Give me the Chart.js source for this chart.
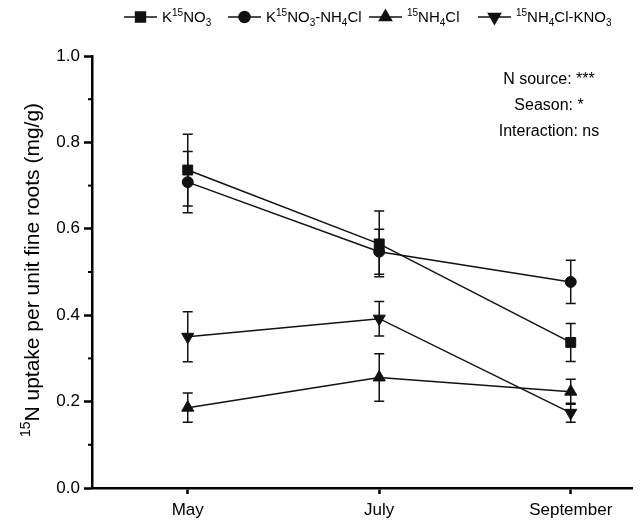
<!DOCTYPE html>
<html>
<head>
<meta charset="utf-8">
<script src="https://cdn.jsdelivr.net/npm/chart.js@4/dist/chart.umd.min.js"></script>
<style>
  html, body { margin: 0; background: #fff; }
</style>
</head>
<body>
<canvas id="chart" width="640" height="521"></canvas>
<script>
// ---------------- DATA ----------------
const months = ["May", "July", "September"];
const seriesNames = ["K¹⁵NO₃", "K¹⁵NO₃-NH₄Cl", "¹⁵NH₄Cl", "¹⁵NH₄Cl-KNO₃"];

const kno3 = [0.736, 0.565, 0.337];
const kno3Err = [0.083, 0.076, 0.044];
const kno3Nh4 = [0.708, 0.547, 0.477];
const kno3Nh4Err = [0.071, 0.052, 0.050];
const nh4 = [0.186, 0.256, 0.223];
const nh4Err = [0.034, 0.055, 0.029];
const nh4Kno3 = [0.350, 0.392, 0.174];
const nh4Kno3Err = [0.058, 0.040, 0.022];

const yTicks = [0, 0.2, 0.4, 0.6, 0.8, 1.0];
const yMinor = [0.1, 0.3, 0.5, 0.7, 0.9];
const statsText = ["N source: ***", "Season: *", "Interaction: ns"];

// legend labels with super/subscripts: [text, "sup"|"sub"|""]
const legendParts = [
  [["K", ""], ["15", "sup"], ["NO", ""], ["3", "sub"]],
  [["K", ""], ["15", "sup"], ["NO", ""], ["3", "sub"], ["-NH", ""], ["4", "sub"], ["Cl", ""]],
  [["15", "sup"], ["NH", ""], ["4", "sub"], ["Cl", ""]],
  [["15", "sup"], ["NH", ""], ["4", "sub"], ["Cl-KNO", ""], ["3", "sub"]]
];
const titleParts = [["15", "sup"], ["N uptake per unit fine roots (mg/g)", ""]];

const FONT = '"Liberation Sans", Arial, sans-serif';

// ---------------- HELPERS ----------------
function toPoints(vals) { return vals.map((v, i) => ({ x: i, y: v })); }

function richWidth(ctx, parts, size) {
  let w = 0;
  for (const [t, k] of parts) {
    ctx.font = (k ? Math.round(size * 0.65) : size) + "px " + FONT;
    w += ctx.measureText(t).width;
  }
  return w;
}

function drawRich(ctx, parts, x, y, size) {
  ctx.textAlign = "left";
  ctx.textBaseline = "alphabetic";
  for (const [t, k] of parts) {
    const s = k ? Math.round(size * 0.65) : size;
    ctx.font = s + "px " + FONT;
    let dy = 0;
    if (k === "sup") dy = -size * 0.42;
    if (k === "sub") dy = size * 0.25;
    ctx.fillText(t, x, y + dy);
    x += ctx.measureText(t).width;
  }
}

// ---------------- PLUGINS ----------------
const errorBars = {
  id: "errorBars",
  beforeDatasetsDraw(chart) {
    const ctx = chart.ctx, xs = chart.scales.x, ys = chart.scales.y;
    ctx.save();
    ctx.strokeStyle = "#111";
    ctx.lineWidth = 1.5;
    chart.data.datasets.forEach(ds => {
      ds.data.forEach((p, i) => {
        const e = ds.errors[i];
        const x = xs.getPixelForValue(p.x);
        const y1 = ys.getPixelForValue(p.y + e);
        const y2 = ys.getPixelForValue(p.y - e);
        ctx.beginPath();
        ctx.moveTo(x, y1); ctx.lineTo(x, y2);
        ctx.moveTo(x - 5, y1); ctx.lineTo(x + 5, y1);
        ctx.moveTo(x - 5, y2); ctx.lineTo(x + 5, y2);
        ctx.stroke();
      });
    });
    ctx.restore();
  }
};

const decorations = {
  id: "decorations",
  afterDraw(chart) {
    const ctx = chart.ctx, ys = chart.scales.y, area = chart.chartArea;
    ctx.save();
    ctx.fillStyle = "#000";
    ctx.strokeStyle = "#000";

    // minor y ticks
    ctx.lineWidth = 2;
    yMinor.forEach(v => {
      const y = ys.getPixelForValue(v);
      ctx.beginPath();
      ctx.moveTo(area.left - 4, y); ctx.lineTo(area.left, y);
      ctx.stroke();
    });

    // y axis title
    ctx.save();
    ctx.translate(31, 270);
    ctx.rotate(-Math.PI / 2);
    const tw = richWidth(ctx, titleParts, 21);
    drawRich(ctx, titleParts, -tw / 2, 8, 21);
    ctx.restore();

    // stats text
    ctx.font = "16px " + FONT;
    ctx.textAlign = "center";
    ctx.textBaseline = "middle";
    statsText.forEach((t, i) => ctx.fillText(t, 549, 80 + i * 26));

    // legend
    const lx = [124, 228, 369, 478];
    const lineLen = 33;
    chart.data.datasets.forEach((ds, i) => {
      const y = 17;
      ctx.lineWidth = 1.5;
      ctx.strokeStyle = "#111";
      ctx.beginPath();
      ctx.moveTo(lx[i], y); ctx.lineTo(lx[i] + lineLen, y);
      ctx.stroke();
      ctx.fillStyle = "#111";
      Chart.helpers.drawPoint(ctx, {
        pointStyle: ds.pointStyle, radius: ds.pointRadius,
        rotation: ds.pointRotation || 0, borderWidth: 1
      }, lx[i] + lineLen / 2, y);
      ctx.fillStyle = "#000";
      drawRich(ctx, legendParts[i], lx[i] + lineLen + 5, y + 5, 15);
    });
    ctx.restore();
  }
};

// ---------------- CHART ----------------
function makeSet(label, vals, errs, style, radius, rotation) {
  return {
    label: label,
    data: toPoints(vals),
    errors: errs,
    borderColor: "#111",
    borderWidth: 1.5,
    backgroundColor: "#111",
    pointBackgroundColor: "#111",
    pointBorderColor: "#111",
    pointBorderWidth: 1,
    pointStyle: style,
    pointRadius: radius,
    pointRotation: rotation || 0,
    tension: 0,
    fill: false
  };
}

new Chart(document.getElementById("chart").getContext("2d"), {
  type: "line",
  data: {
    datasets: [
      makeSet(seriesNames[0], kno3, kno3Err, "rect", 7),
      makeSet(seriesNames[1], kno3Nh4, kno3Nh4Err, "circle", 5.5),
      makeSet(seriesNames[2], nh4, nh4Err, "triangle", 7),
      makeSet(seriesNames[3], nh4Kno3, nh4Kno3Err, "triangle", 7, 180)
    ]
  },
  options: {
    responsive: false,
    devicePixelRatio: 1,
    animation: false,
    layout: { padding: { top: 56, right: 3, left: 0, bottom: 0 } },
    plugins: { legend: { display: false }, tooltip: { enabled: false } },
    scales: {
      x: {
        type: "linear",
        min: -0.5,
        max: 2.32,
        afterBuildTicks: s => { s.ticks = months.map((m, i) => ({ value: i })); },
        afterFit: s => { s.height = 33; },
        ticks: {
          callback: v => months[v],
          color: "#000",
          font: { size: 17, family: FONT },
          padding: 6,
          maxRotation: 0
        },
        grid: { drawOnChartArea: false, tickLength: 6, tickWidth: 2.5, tickColor: "#000" },
        border: { width: 2.5, color: "#000" }
      },
      y: {
        min: 0,
        max: 1,
        afterBuildTicks: s => { s.ticks = yTicks.map(v => ({ value: v })); },
        afterFit: s => { s.width = 92; },
        ticks: {
          callback: v => v.toFixed(1),
          color: "#000",
          font: { size: 17, family: FONT },
          padding: 4
        },
        grid: { drawOnChartArea: false, tickLength: 8, tickWidth: 2.5, tickColor: "#000" },
        border: { width: 2.5, color: "#000" }
      }
    }
  },
  plugins: [errorBars, decorations]
});
</script>
</body>
</html>
